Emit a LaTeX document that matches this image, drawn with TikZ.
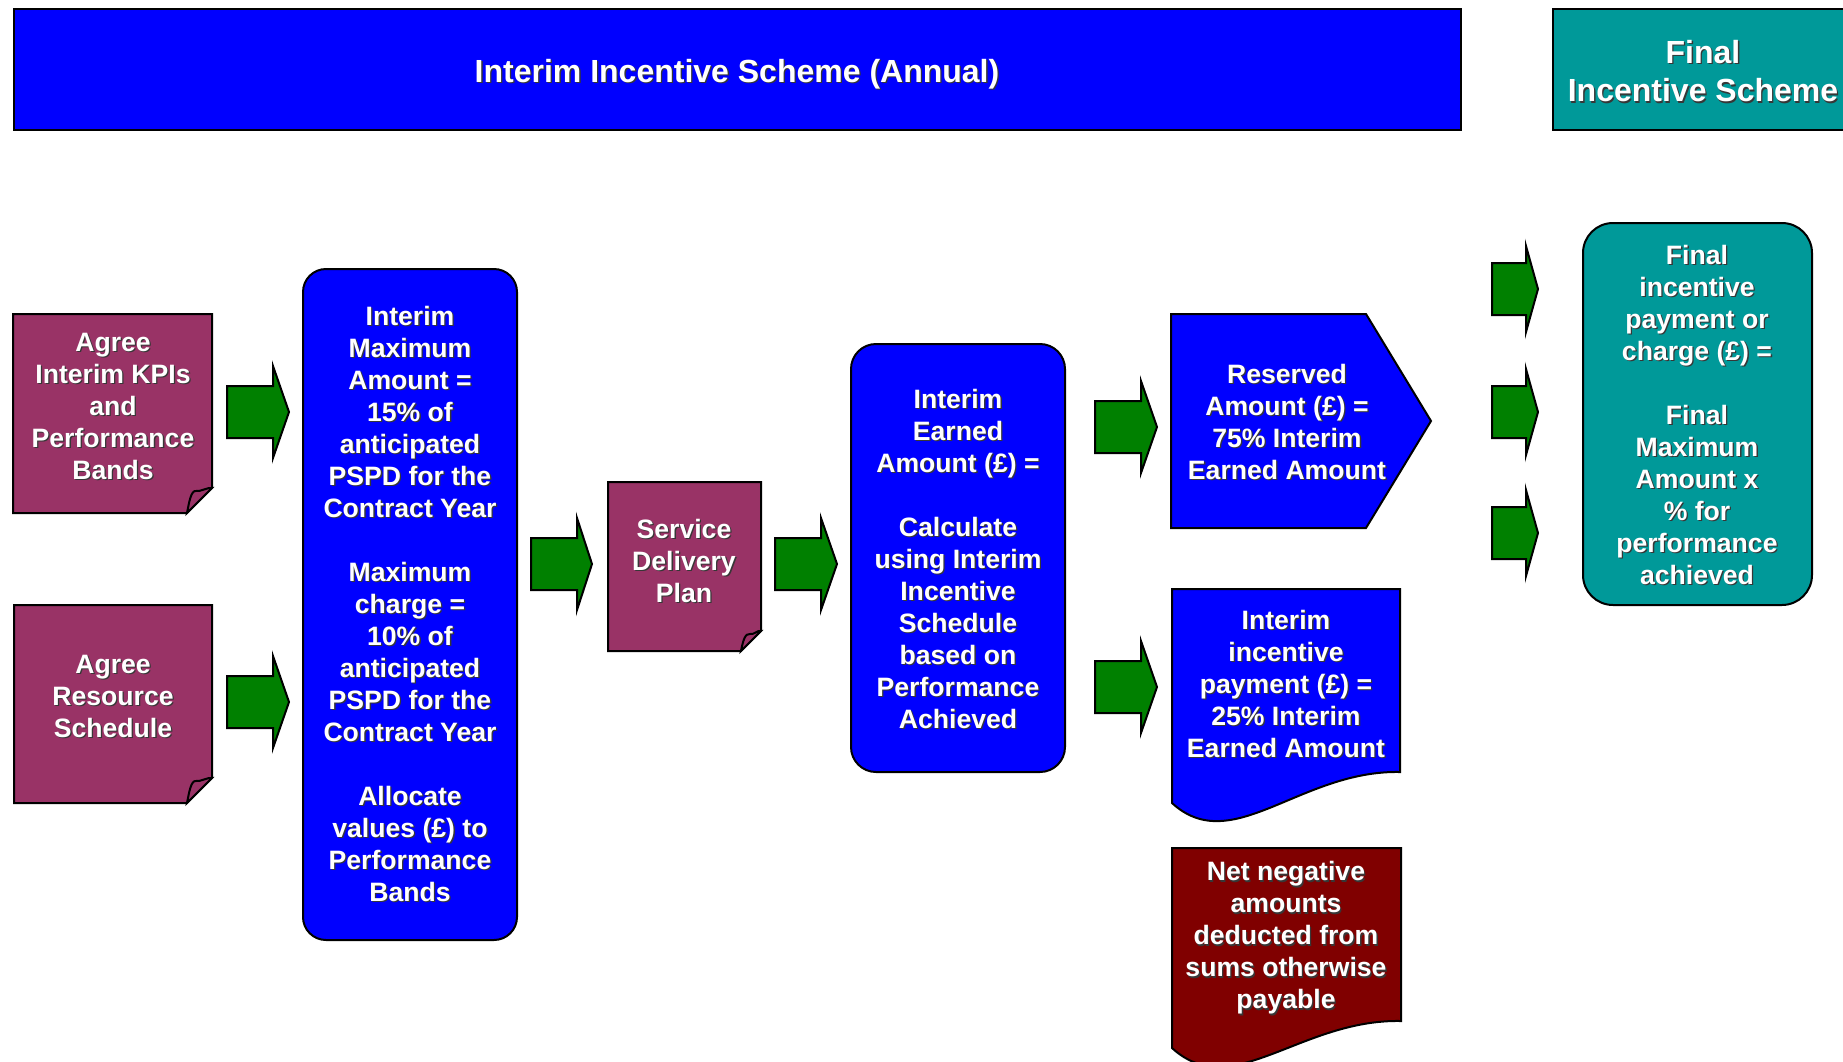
\documentclass[tikz,border=0pt]{standalone}
\usepackage{fontspec}
\setmainfont{Liberation Sans}
\definecolor{bblue}{RGB}{0,0,255}
\definecolor{plum}{RGB}{153,51,102}
\definecolor{dgreen}{RGB}{0,128,0}
\definecolor{tealc}{RGB}{0,153,153}
\definecolor{maroonc}{RGB}{128,0,0}
\definecolor{shadowc}{RGB}{55,55,55}
\tikzset{
  txt/.style={text=white, align=center, inner sep=0pt, font=\fontsize{13.3}{16}\selectfont\bfseries},
  ttl/.style={txt, font=\fontsize{16}{19.4}\selectfont\bfseries},
  boxline/.style={draw=black, line width=1pt, line join=miter},
  garrow/.style={boxline, fill=dgreen},
  bluebox/.style={boxline, fill=bblue},
  plumbox/.style={boxline, fill=plum},
  tealbox/.style={boxline, fill=tealc},
  redbox/.style={boxline, fill=maroonc},
}
% shadowed text: style, name, position, text
\newcommand\shtext[4]{%
  \node[#1, text=shadowc] at ([shift={(1.3,1.3)}]#3) {#4};
  \node[#1] (#2) at (#3) {#4};}
% block arrow: x0, yc, shaft length, head length, shaft half, head half
\newcommand\barrow[6]{%
  \draw[garrow] (#1,#2-#5) -- ++(#3,0) -- ++(0,#5-#6) -- ++(#4,#6) -- ++(-#4,#6) -- ++(0,#5-#6) -- ++(-#3,0) -- cycle;}
% folded document: L,T,R,B,fold
\newcommand\docbox[5]{%
  \draw[plumbox] (#1,#2) -- (#3,#2) -- (#3,#4-#5) -- (#3-#5,#4) -- (#1,#4) -- cycle;
  \draw[plumbox] (#3-#5,#4) .. controls (#3-#5+2,#4-10) and (#3-#5+4,#4-#5+2) .. (#3-#5+9,#4-#5+3)
     .. controls (#3-#5+13,#4-#5+4) and (#3-4,#4-#5-1) .. (#3,#4-#5) -- cycle;}
\begin{document}
\begin{tikzpicture}[x=0.5pt,y=-0.5pt]
\path[use as bounding box, clip] (0,0) rectangle (1843,1061);
\fill[white] (0,0) rectangle (1843,1061);

% banners
\draw[bluebox] (14,9) rectangle (1461,130);
\shtext{ttl}{title}{737,74}{Interim Incentive Scheme (Annual)}
\draw[tealbox] (1553,9) rectangle (1870,130);
\shtext{ttl}{finalttl}{1703,71}{Final\\Incentive Scheme}

% left documents
\docbox{13}{314}{212}{513}{25}
\shtext{txt}{kpis}{113,406}{Agree\\Interim KPIs\\and\\Performance\\Bands}
\docbox{14}{605}{212}{803}{25}
\shtext{txt}{resource}{113,696}{Agree\\Resource\\Schedule}

\barrow{227}{412}{46}{16}{26}{46}
\barrow{227}{702}{46}{16}{26}{46}

% interim maximum
\draw[bluebox, rounded corners=11.5pt] (303,269) rectangle (517,940);
\shtext{txt}{intmax}{410,604}{Interim\\Maximum\\Amount =\\15\% of\\anticipated\\PSPD for the\\Contract Year\\[16pt]Maximum\\charge =\\10\% of\\anticipated\\PSPD for the\\Contract Year\\[16pt]Allocate\\values (£) to\\Performance\\Bands}

\barrow{531}{564}{46}{15}{26}{46}

% service delivery plan
\docbox{608}{482}{761}{651}{20}
\shtext{txt}{sdp}{684,561}{Service\\Delivery\\Plan}

\barrow{775}{564}{46}{16}{26}{46}

% interim earned
\draw[bluebox, rounded corners=12.5pt] (851,344) rectangle (1065,772);
\shtext{txt}{earned}{958,559}{Interim\\Earned\\Amount (£) =\\[16pt]Calculate\\using Interim\\Incentive\\Schedule\\based on\\Performance\\Achieved}

\barrow{1095}{427}{46}{16}{26}{46}
\barrow{1095}{687}{46}{16}{26}{46}

% reserved
\draw[bluebox] (1171,314) -- (1366,314) -- (1431,421) -- (1366,528) -- (1171,528) -- cycle;
\shtext{txt}{reserved}{1287,422}{Reserved\\Amount (£) =\\75\% Interim\\Earned Amount}

% interim payment
\draw[bluebox] (1172,589) -- (1400,589) -- (1400,772)
  .. controls (1300,770) and (1232,858) .. (1172,803) -- cycle;
\shtext{txt}{payment}{1286,684}{Interim\\incentive\\payment (£) =\\25\% Interim\\Earned Amount}

% net negative
\draw[redbox] (1172,848) -- (1401,848) -- (1401,1021)
  .. controls (1300,1019) and (1232,1103) .. (1172,1048) -- cycle;
\shtext{txt}{netneg}{1286,938}{Net negative\\amounts\\deducted from\\sums otherwise\\payable}

% right arrows
\barrow{1492}{289}{34}{12}{26}{43}
\barrow{1492}{412}{34}{12}{26}{43}
\barrow{1492}{533}{34}{12}{26}{43}

% final
\draw[tealbox, rounded corners=15pt] (1583,223) rectangle (1812,605);
\shtext{txt}{final}{1697,415}{Final\\incentive\\payment or\\charge (£) =\\[16pt]Final\\Maximum\\Amount x\\\% for\\performance\\achieved}
\end{tikzpicture}
\end{document}
